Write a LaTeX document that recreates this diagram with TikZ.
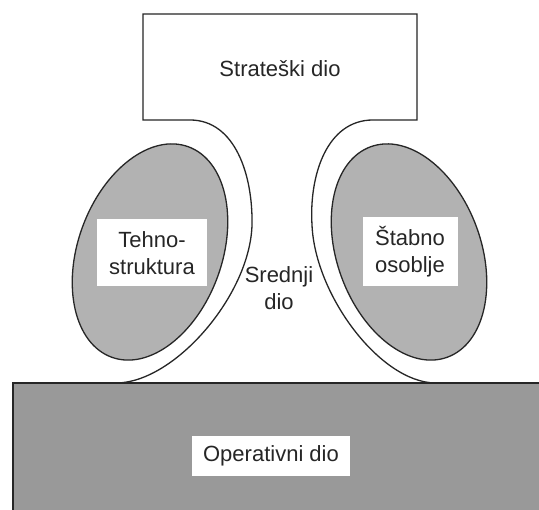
\documentclass[tikz,border=0pt]{standalone}
\usepackage{fontspec}
\setmainfont{Liberation Sans}
\usetikzlibrary{shapes.geometric, positioning}

\begin{document}
\begin{tikzpicture}[x=1pt,y=1pt,
  part/.style={draw=black!85, line width=1.3pt},
  textbox/.style={fill=white, text=black!85, align=center, inner sep=0pt,
    font=\fontsize{22}{27}\selectfont}]
\useasboundingbox (0,0) rectangle (539,510);
\fill[white] (0,0) rectangle (539,510);

% Operativni dio
\fill[black!40] (13,-5) rectangle (545,127);
\draw[part] (13,-5) -- (13,127) -- (545,127);

% Strateski dio + srednji dio
\draw[part] (117,127) .. controls (175,128) and (250,215) .. (252,285)
  .. controls (253,335) and (235,390) .. (190,390)
  -- (143,390) -- (143,496) -- (417,496) -- (417,390) -- (373,390)
  .. controls (327,390) and (309,335) .. (312,285)
  .. controls (315,215) and (380,128) .. (435,127);

% Ellipses
\coordinate (tehnoc) at (150,258);
\coordinate (stabnoc) at (409,258);
\draw[part, fill=black!30, rotate around={-20:(tehnoc)}] (tehnoc) ellipse [x radius=72, y radius=112];
\draw[part, fill=black!30, rotate around={20:(stabnoc)}] (stabnoc) ellipse [x radius=72, y radius=112];

% Labels
\node[textbox] (strateski) at (280,441) {Strateški dio};
\node[textbox, minimum width=110, minimum height=67] (tehno) at (152,257) {Tehno-\\struktura};
\node[textbox, minimum width=95, minimum height=69] (stabno) at (410,258) {Štabno\\osoblje};
\node[textbox, fill=none] (srednji) at (279,222) {Srednji\\dio};
\node[textbox, minimum width=158, minimum height=40] (operativni) at (271,54) {Operativni dio};
\end{tikzpicture}
\end{document}
